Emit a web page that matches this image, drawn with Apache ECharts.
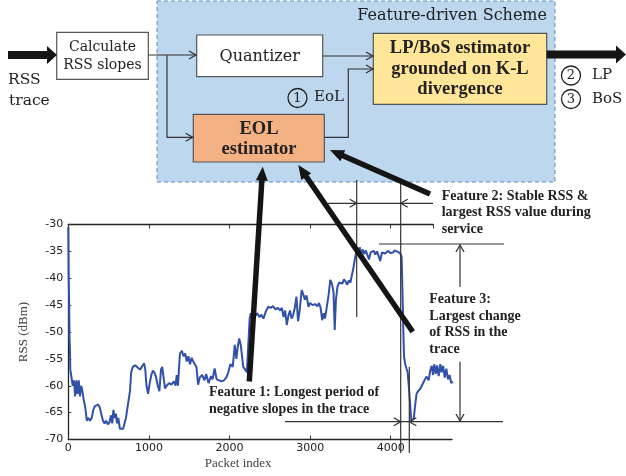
<!DOCTYPE html>
<html>
<head>
<meta charset="utf-8">
<script src="https://cdn.jsdelivr.net/npm/echarts@6/dist/echarts.min.js"></script>
<style>
html, body { margin: 0; padding: 0; background: #fff; }
#main { width: 626px; height: 476px; }
</style>
</head>
<body>
<div id="main"></div>
<script>
// RSS trace: packet index / RSS (dBm)
var packetIdx = [0, 5, 10, 15, 20, 25, 35, 55, 70, 85, 100, 115, 130, 145, 160, 175, 190, 210, 230, 250,
    270, 290, 310, 330, 350, 370, 390, 410, 430, 450, 470, 490, 510, 530, 545, 560, 575, 590, 605, 620,
    640, 660, 680, 700, 715, 730, 750, 765, 780, 800, 830, 860, 890, 910, 940, 955, 970, 990, 1010, 1030,
    1050, 1070, 1090, 1110, 1130, 1150, 1165, 1180, 1200, 1220, 1250, 1280, 1310, 1330, 1345, 1360, 1385, 1410, 1430, 1450,
    1470, 1490, 1510, 1530, 1550, 1570, 1590, 1610, 1630, 1660, 1690, 1710, 1740, 1770, 1790, 1815, 1840, 1870, 1900, 1930,
    1960, 1985, 2010, 2040, 2065, 2085, 2100, 2120, 2140, 2155, 2170, 2195, 2215, 2235, 2250, 2265, 2280, 2300, 2320, 2345,
    2370, 2395, 2420, 2450, 2480, 2510, 2540, 2570, 2600, 2630, 2650, 2670, 2690, 2710, 2730, 2750, 2770, 2790, 2810, 2830,
    2850, 2870, 2895, 2915, 2935, 2955, 2980, 3000, 3030, 3060, 3090, 3110, 3130, 3150, 3170, 3185, 3205, 3230, 3250, 3270,
    3290, 3305, 3320, 3340, 3360, 3380, 3400, 3420, 3440, 3460, 3480, 3500, 3520, 3540, 3560, 3580, 3600, 3615, 3630, 3650,
    3670, 3690, 3710, 3730, 3750, 3770, 3790, 3810, 3830, 3850, 3870, 3890, 3910, 3930, 3950, 3970, 3990, 4010, 4030, 4050,
    4075, 4095, 4115, 4135, 4148, 4156, 4165, 4180, 4195, 4210, 4231, 4245, 4255, 4270, 4285, 4300, 4320, 4340, 4365, 4385,
    4405, 4425, 4446, 4470, 4490, 4508, 4525, 4540, 4560, 4575, 4595, 4615, 4630, 4650, 4670, 4690, 4710, 4730, 4750, 4770];
var rssDbm = [-30.5, -40, -44, -51, -53, -57, -58, -60, -59, -62, -59, -61.5, -59, -62, -60, -61, -62.5, -64, -66.5, -66,
    -66.5, -66, -64.5, -63.8, -64, -63.5, -64, -63.8, -66.5, -67, -66.5, -67.2, -66.8, -65.5, -67, -64.5, -66, -65.2, -67, -66,
    -68, -68.3, -68, -67.8, -66, -64.5, -62.5, -61, -57.5, -56.5, -56.2, -56.6, -57, -56.5, -55.8, -57, -60, -61.5, -59.5, -58,
    -57.2, -57.6, -58.5, -60, -61, -57, -56.5, -58.2, -60.5, -60, -59.5, -59.8, -59.2, -60, -58, -60, -54, -53.5, -54.5, -54,
    -55.5, -54.5, -56, -54.8, -55.5, -56, -56.5, -59.8, -58.5, -58, -59, -57.8, -59.5, -58.2, -58.8, -56.8, -58.8, -59, -59.2, -59,
    -58.5, -57.5, -56, -56.5, -52.4, -55, -53, -51.2, -52.5, -54.5, -56.5, -57, -57.5, -57.2, -47.5, -46.5, -47.5, -46.2, -47, -46.5,
    -47.2, -46.8, -47.5, -46.2, -45.3, -45.5, -45.2, -45.8, -45.5, -46, -45.5, -47.2, -46, -48.7, -47, -46, -47.5, -46.8, -45.5, -43.4,
    -48, -46, -42.2, -43, -44, -43.2, -45.3, -44.6, -45, -44.8, -45.2, -44.6, -45.5, -47.8, -46.5, -47.5, -45.5, -43, -40.3, -41,
    -42.5, -49.6, -44, -41.5, -40.8, -40.5, -41, -40.2, -40.6, -41.2, -40.4, -40.8, -40.5, -37.8, -36, -34.5, -35.5, -34.2, -35.8, -34.6,
    -35.5, -34.8, -35, -36.5, -35.2, -35.4, -34.9, -35.6, -35, -35.3, -36.8, -35.2, -35, -35.4, -35.1, -34.9, -35.3, -35, -35.2, -34.8,
    -35, -34.9, -35.3, -36, -44, -49.6, -54.6, -56, -56.8, -57.5, -61.4, -64.5, -66.4, -66.6, -66.2, -64, -61.5, -61, -60.6, -60,
    -59.8, -58.8, -58.3, -59, -57.2, -56.3, -58, -56, -57.8, -56.2, -58.2, -56, -57.5, -56.3, -58.5, -56.8, -58.8, -58, -59.5, -59.2];
var xTicks = [0, 1000, 2000, 3000, 4000];
var yTicks = [-70, -65, -60, -55, -50, -45, -40, -35, -30];

var serif = '"DejaVu Serif", serif';
var serifBold = '"Liberation Serif", "DejaVu Serif", serif';
var ink = '#222';

let traceData = [];
packetIdx.forEach((p, i) => {
    traceData.push([p, rssDbm[i]]);
});

// ---- drawing helpers for the block diagram ----
function txt(x, y, s, size, opt) {
    opt = opt || {};
    return {
        type: 'text', z: 30, x: x, y: y,
        style: {
            text: s, fill: ink, font: (opt.bold ? 'bold ' + size + 'px ' + serifBold : size + 'px ' + serif),
            textAlign: opt.align || 'left', textVerticalAlign: 'middle'
        }
    };
}
function box(x, y, w, h, fill) {
    return { type: 'rect', z: 10, shape: { x: x, y: y, width: w, height: h },
        style: { fill: fill, stroke: '#555', lineWidth: 1.2 } };
}
function seg(pts, w) {
    return { type: 'polyline', z: 15, shape: { points: pts },
        style: { stroke: '#333', lineWidth: w || 1.2, fill: null } };
}
// open chevron arrow head, tip at (tx,ty), pointing along (dx,dy)
function head(tx, ty, dx, dy, len, half) {
    len = len || 7; half = half || 4;
    let nx = -dy, ny = dx;
    return seg([[tx - dx * len + nx * half, ty - dy * len + ny * half], [tx, ty],
        [tx - dx * len - nx * half, ty - dy * len - ny * half]], 1.3);
}
function bigArrow(x1, y1, x2, y2, w, hl, hw) {
    let len = Math.sqrt((x2 - x1) * (x2 - x1) + (y2 - y1) * (y2 - y1));
    let ux = (x2 - x1) / len, uy = (y2 - y1) / len;
    let nx = -uy, ny = ux;
    let bx = x2 - ux * hl, by = y2 - uy * hl;
    return [
        { type: 'line', z: 40, shape: { x1: x1, y1: y1, x2: bx + ux, y2: by + uy },
            style: { stroke: '#151515', lineWidth: w } },
        { type: 'polygon', z: 40, shape: { points: [[x2, y2], [bx + nx * hw / 2, by + ny * hw / 2], [bx - nx * hw / 2, by - ny * hw / 2]] },
            style: { fill: '#151515' } }
    ];
}
function numCircle(cx, cy, n) {
    return [
        { type: 'circle', z: 30, shape: { cx: cx, cy: cy, r: 9.5 }, style: { fill: 'rgba(0,0,0,0)', stroke: ink, lineWidth: 1.3 } },
        txt(cx, cy + 0.5, n, 13, { align: 'center' })
    ];
}

let els = [];
// feature-driven scheme frame
els.push({ type: 'rect', z: 1, shape: { x: 157, y: 1, width: 398, height: 181 },
    style: { fill: '#bdd7ee', stroke: '#5b8ec6', lineWidth: 1, lineDash: [4, 3] } });
els.push(txt(547, 16, 'Feature-driven Scheme', 16, { align: 'right' }));
// input
els = els.concat(bigArrow(8, 55, 57, 55, 8, 10, 18));
els.push(txt(8, 80, 'RSS', 15.5), txt(9, 101, 'trace', 15.5));
els.push(box(56.7, 32.3, 91.6, 47, '#fff'));
els.push(txt(102.5, 47, 'Calculate', 14, { align: 'center' }), txt(102.5, 65.5, 'RSS slopes', 14, { align: 'center' }));
els.push(seg([[148.3, 55], [196, 55]]), head(196, 55, 1, 0));
els.push(seg([[167, 55], [167, 137.3], [192.7, 137.3]]), head(192.7, 137.3, 1, 0));
// quantizer
els.push(box(196.7, 35, 126, 41.7, '#fff'));
els.push(txt(259.7, 56.5, 'Quantizer', 16, { align: 'center' }));
// EOL estimator
els.push(box(193.3, 114.3, 131, 47.7, '#f4b183'));
els.push(txt(259, 129, 'EOL', 18.5, { align: 'center', bold: true }), txt(259, 149.5, 'estimator', 18.5, { align: 'center', bold: true }));
// LP/BoS estimator
els.push(box(373.3, 33.3, 173.4, 71, '#ffe699'));
els.push(txt(460, 48.3, 'LP/BoS estimator', 18.5, { align: 'center', bold: true }));
els.push(txt(460, 69.5, 'grounded on K-L', 18.5, { align: 'center', bold: true }));
els.push(txt(460, 89.5, 'divergence', 18.5, { align: 'center', bold: true }));
els.push(seg([[322.7, 56], [373, 56]]), head(373, 56, 1, 0));
els.push(seg([[324.3, 137.3], [348.3, 137.3], [348.3, 69], [373, 69]]), head(373, 69, 1, 0));
els = els.concat(bigArrow(546.7, 54.5, 626, 54.5, 8, 10, 18));
// circled labels
els = els.concat(numCircle(297.5, 98, '1'));
els.push(txt(314, 97.5, 'EoL', 15));
els = els.concat(numCircle(571, 75.5, '2'));
els.push(txt(592, 75.5, 'LP', 15));
els = els.concat(numCircle(571, 99, '3'));
els.push(txt(592, 99, 'BoS', 15));

// feature annotations on the trace
els.push(seg([[356.7, 180], [356.7, 317]]), seg([[400.7, 180], [400.7, 453]]));
els.push(seg([[328, 203.3], [433, 203.3]]), head(356.7, 203.3, 1, 0), head(400.7, 203.3, -1, 0));
els.push(seg([[379, 244], [504, 244]]));
els.push(seg([[460, 245], [460, 287]]), head(460, 245, 0, -1));
els.push(seg([[460, 361.7], [460, 421]]), head(460, 421, 0, 1));
els.push(seg([[285, 421.7], [503, 421.7]]), head(400.7, 421.7, 1, 0), head(409.3, 421.7, -1, 0));
els.push(seg([[409.3, 366.7], [409.3, 453]]));

let f2 = ['Feature 2: Stable RSS &', 'largest RSS value during', 'service'];
f2.forEach((s, i) => els.push(txt(441.7, 196 + i * 16.7, s, 14, { bold: true })));
let f3 = ['Feature 3:', 'Largest change', 'of RSS in the', 'trace'];
f3.forEach((s, i) => els.push(txt(429.3, 299.3 + i * 16.7, s, 14, { bold: true })));
let f1 = ['Feature 1: Longest period of', 'negative slopes in the trace'];
f1.forEach((s, i) => els.push(txt(209, 392.7 + i * 16.6, s, 14, { bold: true })));

// big black pointers to the EOL estimator
els = els.concat(bigArrow(249.3, 381.5, 262.7, 166.7, 5.5, 14, 12));
els = els.concat(bigArrow(430, 194, 330, 150, 5.5, 14, 12));
els = els.concat(bigArrow(412.7, 331.7, 298.3, 165, 5.5, 14, 12));

let myChart = echarts.init(document.getElementById('main'));
let axisFont = { fontFamily: '"DejaVu Sans", sans-serif', fontSize: 11, color: '#222' };
let option = {
    animation: false,
    backgroundColor: '#fff',
    grid: [
        { left: 68.3, top: 224.5, right: 174, bottom: 36.5 },
        { left: 68.3, top: 224.5, width: 365, bottom: 36.5 }
    ],
    xAxis: [{
        type: 'value', gridIndex: 0, min: 0, max: 4760, interval: 1000,
        name: 'Packet index', nameLocation: 'middle', nameGap: 18,
        nameTextStyle: { fontFamily: '"Liberation Serif", serif', fontSize: 13, color: '#444', padding: [0, 44, 0, 0] },
        axisLine: { lineStyle: { color: '#222', width: 1.3 } },
        axisTick: { inside: true, length: 4, lineStyle: { color: '#333' } },
        axisLabel: Object.assign({ margin: 3, showMaxLabel: false, formatter: function(v) {
            return xTicks.indexOf(v) >= 0 ? String(v) : '';
        } }, axisFont),
        splitLine: { show: false }
    }, {
        type: 'value', gridIndex: 1, position: 'top', min: 0, max: 4528, interval: 1000,
        axisLine: { lineStyle: { color: '#222', width: 1.3 } },
        axisTick: { inside: true, length: 4, lineStyle: { color: '#333' } },
        axisLabel: { show: false },
        splitLine: { show: false }
    }],
    yAxis: [{
        type: 'value', gridIndex: 0, min: -70, max: -30, interval: 5,
        name: 'RSS (dBm)', nameLocation: 'middle', nameGap: 38,
        nameTextStyle: { fontFamily: '"Liberation Serif", serif', fontSize: 13, color: '#444' },
        axisLine: { show: true, lineStyle: { color: '#222', width: 1.3 } },
        axisTick: { show: true, inside: true, length: 3, lineStyle: { color: '#333' } },
        axisLabel: Object.assign({ margin: 5, formatter: function(v) {
            return yTicks.indexOf(v) >= 0 ? String(v) : '';
        } }, axisFont),
        splitLine: { show: false }
    }, {
        type: 'value', gridIndex: 1, min: -70, max: -30, show: false
    }],
    series: [{
        type: 'line',
        xAxisIndex: 0,
        yAxisIndex: 0,
        data: traceData,
        showSymbol: false,
        lineStyle: { color: '#3151a8', width: 2 },
        z: 5
    }],
    graphic: { elements: els }
};
if (option && typeof option === "object") {
    myChart.setOption(option, true);
}
</script>
</body>
</html>
